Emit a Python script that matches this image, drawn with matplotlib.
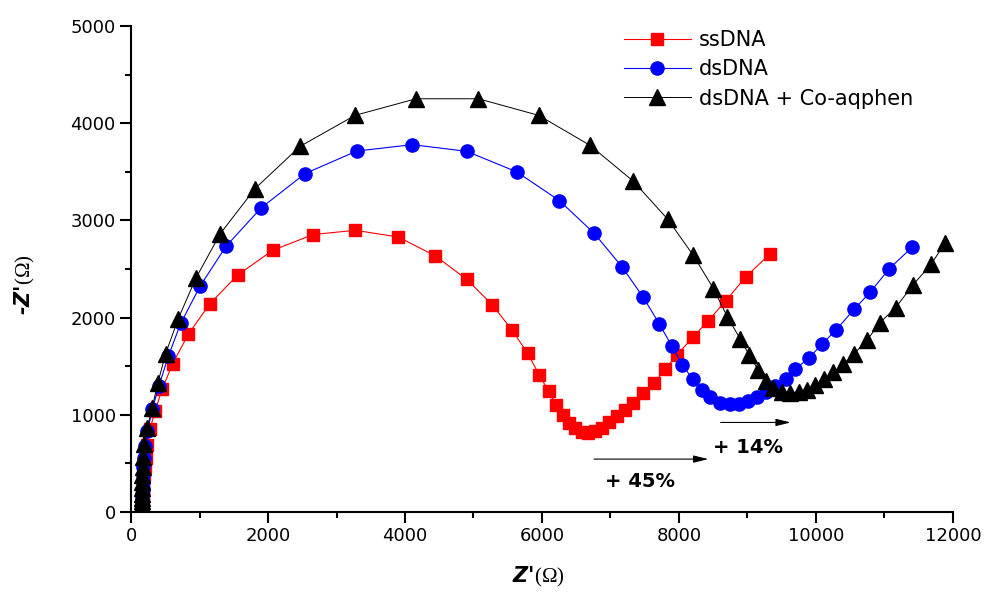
import matplotlib.pyplot as plt
from matplotlib.ticker import MultipleLocator

plt.rcParams['font.family'] = ['DejaVu Sans']
plt.rcParams['mathtext.fontset'] = 'custom'
plt.rcParams['mathtext.rm'] = 'Liberation Serif'

# Nyquist data (Z' and -Z'' in ohm)
ss_x = [160, 161, 162, 163, 165, 167, 170, 173, 177, 182, 190, 200, 215, 240, 277,
        350, 457, 609, 837, 1153, 1560, 2069, 2658, 3275, 3900, 4438, 4901, 5275,
        5567, 5790, 5957, 6095, 6210, 6305, 6390, 6482, 6580, 6677, 6774, 6872,
        6979, 7090, 7210, 7334, 7480, 7636, 7796, 7965, 8200, 8429, 8685, 8974, 9329]
ss_y = [5, 15, 30, 50, 75, 105, 140, 185, 240, 305, 380, 465, 560, 690, 850,
        1038, 1268, 1528, 1830, 2145, 2440, 2693, 2855, 2899, 2830, 2638, 2394, 2132,
        1868, 1634, 1415, 1244, 1100, 997, 915, 860, 826, 815, 836, 870,
        928, 985, 1050, 1124, 1220, 1326, 1468, 1612, 1796, 1970, 2175, 2419, 2656]

ds_x = [155, 156, 157, 158, 159, 161, 163, 165, 168, 171, 175, 180, 190, 210, 240,
        311, 409, 545, 725, 1007, 1387, 1898, 2540, 3295, 4107, 4901, 5631, 6254,
        6764, 7167, 7475, 7713, 7894, 8049, 8200, 8332, 8453, 8599, 8745, 8882,
        9013, 9135, 9271, 9402, 9559, 9699, 9894, 10088, 10288, 10556, 10795, 11071, 11407]
ds_y = [5, 15, 30, 50, 75, 105, 140, 185, 240, 305, 380, 465, 560, 680, 830,
        1059, 1299, 1604, 1940, 2323, 2734, 3128, 3482, 3714, 3780, 3711, 3500, 3204,
        2866, 2524, 2213, 1936, 1709, 1518, 1364, 1256, 1185, 1124, 1107, 1110,
        1141, 1185, 1237, 1299, 1374, 1473, 1583, 1727, 1871, 2085, 2265, 2505, 2727]

co_x = [150, 151, 152, 153, 154, 156, 158, 160, 162, 164, 166, 168, 172, 194, 236,
        310, 390, 506, 691, 949, 1304, 1810, 2467, 3270, 4161, 5072, 5952, 6701,
        7334, 7836, 8210, 8502, 8706, 8891, 9027, 9159, 9271, 9378, 9500, 9621,
        9757, 9865, 9986, 10122, 10254, 10400, 10561, 10751, 10936, 11164, 11412, 11680, 11884]
co_y = [8, 20, 35, 55, 80, 110, 145, 190, 245, 310, 380, 465, 565, 697, 860,
        1075, 1323, 1631, 1991, 2409, 2865, 3327, 3762, 4081, 4252, 4252, 4081, 3773,
        3403, 3012, 2640, 2300, 2008, 1785, 1614, 1460, 1350, 1272, 1237, 1227,
        1237, 1261, 1306, 1364, 1436, 1521, 1631, 1775, 1950, 2104, 2334, 2549, 2768]

labels = ['ssDNA', 'dsDNA', 'dsDNA + Co-aqphen']

# shift arrows: (start x, end x, y), text (x, y)
arrow_45 = (6760, 8429, 545)
text_45 = (6920, 319, '+ 45%')
arrow_14 = (8608, 9632, 922)
text_14 = (8497, 668, '+ 14%')

fig = plt.figure(figsize=(9.85, 5.92), dpi=100)
ax = fig.add_axes([0.133, 0.135, 0.8345, 0.821])

ax.plot(ss_x, ss_y, color='red', lw=0.8, marker='s', ms=8, label=labels[0])
ax.plot(ds_x, ds_y, color='blue', lw=0.8, marker='o', ms=9.5, label=labels[1])
ax.plot(co_x, co_y, color='black', lw=0.7, marker='^', ms=11, label=labels[2])

for (x0, x1, y), (tx, ty, s) in [(arrow_45, text_45), (arrow_14, text_14)]:
    ax.annotate('', xy=(x1, y), xytext=(x0, y),
                arrowprops=dict(arrowstyle='-|>,head_length=0.9,head_width=0.22',
                                color='black', lw=0.8, shrinkA=0, shrinkB=0))
    ax.text(tx, ty, s, fontsize=14, fontweight='bold', ha='left', va='center')

ax.set_xlim(0, 12000)
ax.set_ylim(0, 5000)
ax.xaxis.set_major_locator(MultipleLocator(2000))
ax.xaxis.set_minor_locator(MultipleLocator(1000))
ax.yaxis.set_major_locator(MultipleLocator(1000))
ax.yaxis.set_minor_locator(MultipleLocator(500))
ax.tick_params(which='major', direction='out', length=8, width=1.5, labelsize=13, pad=3)
ax.tick_params(which='minor', direction='out', length=4, width=1.5)
for s in ['top', 'right']:
    ax.spines[s].set_visible(False)
for s in ['left', 'bottom']:
    ax.spines[s].set_linewidth(1.5)

ax.set_xlabel(r"Z'$(\Omega)$", fontsize=15, fontweight='bold', fontstyle='italic')
ax.xaxis.set_label_coords(0.496, -0.108)
ax.set_ylabel(r"-Z'$(\Omega)$", fontsize=15, fontweight='bold', fontstyle='italic')
ax.yaxis.set_label_coords(-0.114, 0.467)

ax.legend(loc='upper left', bbox_to_anchor=(624 / 985, 1 - 30 / 592),
          bbox_transform=fig.transFigure, frameon=False, fontsize=15,
          handlelength=3.2, handletextpad=0.4, labelspacing=0.45,
          borderpad=0, borderaxespad=0)

fig.savefig('out.png', dpi=100)
